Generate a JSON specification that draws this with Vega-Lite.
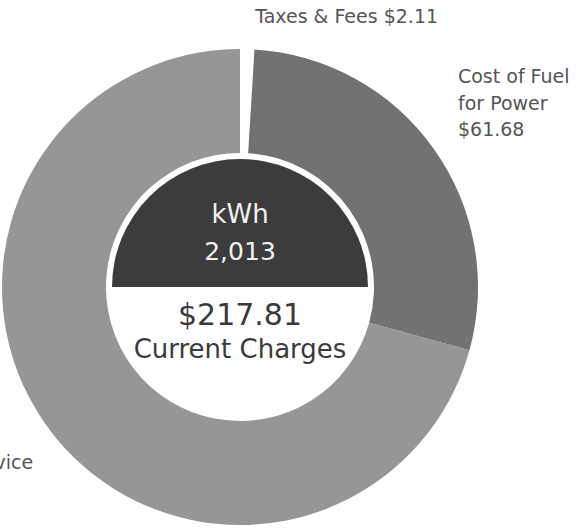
{
  "$schema": "https://vega.github.io/schema/vega-lite/v6.json",
  "autosize": {"type": "none"},
  "width": 480,
  "height": 574,
  "padding": {"left": 0, "top": 0, "right": 106, "bottom": -45},
  "background": "white",
  "config": {"view": {"stroke": null}, "text": {"font": "DejaVu Sans"}},
  "datasets": {
    "charges": [
      {"category": "Taxes & Fees", "amount": 2.11, "order": 1, "label": ["Taxes & Fees $2.11"]},
      {"category": "Cost of Fuel for Power", "amount": 61.68, "order": 2, "label": ["Cost of Fuel", "for Power", "$61.68"]},
      {"category": "Delivery Service", "amount": 154.02, "order": 3, "label": ["Delivery Service"]}
    ],
    "center": [
      {"part": "Usage", "share": 1, "o": 1, "headline": "kWh", "detail": "2,013"},
      {"part": "Charges", "share": 1, "o": 2, "headline": "$217.81", "detail": "Current Charges"}
    ]
  },
  "resolve": {"scale": {"theta": "independent", "color": "independent"}},
  "layer": [
    {
      "data": {"name": "charges"},
      "mark": {"type": "arc", "outerRadius": 238, "innerRadius": 134},
      "encoding": {
        "theta": {"field": "amount", "type": "quantitative", "stack": true},
        "order": {"field": "order", "type": "quantitative"},
        "color": {"field": "category", "type": "nominal", "legend": null,
          "scale": {"domain": ["Taxes & Fees", "Cost of Fuel for Power", "Delivery Service"], "range": ["#ffffff", "#727272", "#969696"]}}
      }
    },
    {
      "data": {"name": "charges"},
      "mark": {"type": "text", "radius": 270, "align": "left", "baseline": "middle", "dx": 7, "fontSize": 19, "fill": "#555555"},
      "encoding": {
        "theta": {"field": "amount", "type": "quantitative", "stack": true},
        "order": {"field": "order", "type": "quantitative"},
        "text": {"condition": {"test": "datum.category === 'Taxes & Fees'", "field": "label"}, "value": ""}
      }
    },
    {
      "data": {"name": "charges"},
      "mark": {"type": "text", "radius": 290, "align": "left", "baseline": "middle", "fontSize": 19, "fill": "#555555", "lineHeight": 26.5, "dx": -18, "dy": -41},
      "encoding": {
        "theta": {"field": "amount", "type": "quantitative", "stack": true},
        "order": {"field": "order", "type": "quantitative"},
        "text": {"condition": {"test": "datum.category === 'Cost of Fuel for Power'", "field": "label"}, "value": ""}
      }
    },
    {
      "data": {"name": "charges"},
      "mark": {"type": "text", "radius": 270, "align": "right", "baseline": "middle", "fontSize": 19, "fill": "#555555", "dx": 8, "dy": 12},
      "encoding": {
        "theta": {"field": "amount", "type": "quantitative", "stack": true},
        "order": {"field": "order", "type": "quantitative"},
        "text": {"condition": {"test": "datum.category === 'Delivery Service'", "field": "label"}, "value": ""}
      }
    },
    {
      "data": {"name": "center"},
      "mark": {"type": "arc", "outerRadius": 128, "innerRadius": 0},
      "encoding": {
        "theta": {"field": "share", "type": "quantitative", "stack": true, "scale": {"range": [-1.5708, 4.7124]}},
        "order": {"field": "o", "type": "quantitative"},
        "color": {"field": "part", "type": "nominal", "legend": null,
          "scale": {"domain": ["Usage", "Charges"], "range": ["#3c3c3c", "#ffffff"]}}
      }
    },
    {
      "data": {"name": "center"},
      "transform": [{"filter": "datum.part === 'Usage'"}],
      "mark": {"type": "text", "align": "center", "baseline": "middle", "fontSize": 26, "fill": "#f2f2f2", "dy": -72},
      "encoding": {"text": {"field": "headline"}}
    },
    {
      "data": {"name": "center"},
      "transform": [{"filter": "datum.part === 'Usage'"}],
      "mark": {"type": "text", "align": "center", "baseline": "middle", "fontSize": 25, "fill": "#f2f2f2", "dy": -35},
      "encoding": {"text": {"field": "detail"}}
    },
    {
      "data": {"name": "center"},
      "transform": [{"filter": "datum.part === 'Charges'"}],
      "mark": {"type": "text", "align": "center", "baseline": "middle", "fontSize": 30, "fill": "#3a3a3a", "dy": 29},
      "encoding": {"text": {"field": "headline"}}
    },
    {
      "data": {"name": "center"},
      "transform": [{"filter": "datum.part === 'Charges'"}],
      "mark": {"type": "text", "align": "center", "baseline": "middle", "fontSize": 26, "fill": "#3a3a3a", "dy": 63},
      "encoding": {"text": {"field": "detail"}}
    }
  ]
}
